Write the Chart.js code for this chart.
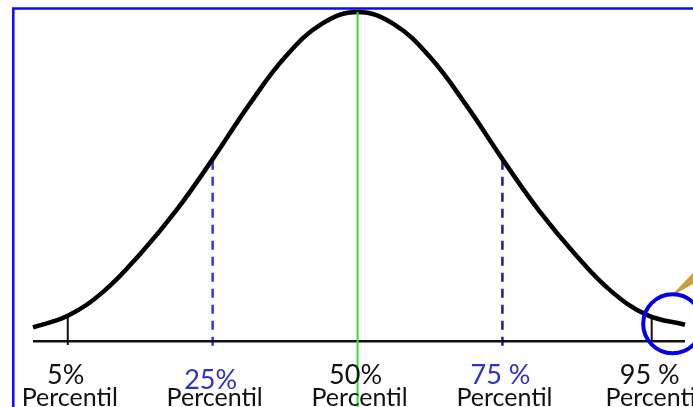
<!DOCTYPE html>
<html>
<head>
<meta charset="utf-8">
<script src="https://cdn.jsdelivr.net/npm/chart.js@4"></script>
<style>
  html, body { margin: 0; padding: 0; background: #fff; overflow: hidden; }
  #wrap { position: relative; width: 693px; height: 407px; }
</style>
</head>
<body>
<div id="wrap"><canvas id="bellChart" width="693" height="407"></canvas></div>
<script>
// Curve (x in marker steps, y relative to the peak)
var curveX = [-2.24, -2.0, -1.75, -1.5, -1.25, -1.0, -0.75, -0.5, -0.25, 0, 0.25, 0.5, 0.75, 1.0, 1.25, 1.5, 1.75, 2.0, 2.26];
var curveY = [0.042, 0.077, 0.152, 0.265, 0.398, 0.553, 0.717, 0.863, 0.963, 1.0, 0.963, 0.863, 0.717, 0.553, 0.398, 0.265, 0.152, 0.079, 0.05];

// Percentile markers
var markerX = [-2, -1, 0, 1, 2.03];
var markerTop = [0.077, 0.548, 1.0, 0.548, 0.073];
var markerBottom = [-0.012, -0.027, -0.2, -0.022, 0];
var pctLabels = ['5%', '25%', '50%', '75 %', '95 %'];
var subLabel = 'Percentil';

var markerColors = ['#111111', '#3535dd', '#33dd33', '#1c1c9c', '#111111'];
var markerDash = [[], [9, 7], [], [9, 7], []];
var markerWidth = [2, 2.5, 2, 2.5, 2];
var labelColors = ['#111111', '#2f2fcc', '#111111', '#2f2fcc', '#111111'];

var curvePts = curveX.map(function (x, i) { return { x: x, y: curveY[i] }; });

var datasets = [];
markerX.forEach(function (x, i) {
    datasets.push({
        data: [{ x: x, y: markerTop[i] }, { x: x, y: markerBottom[i] }],
        borderColor: markerColors[i],
        borderWidth: markerWidth[i],
        borderDash: markerDash[i],
        pointRadius: 0,
        tension: 0,
        order: i === 2 ? 0 : 3
    });
});
// axis line
datasets.push({
    data: [{ x: curveX[0], y: 0 }, { x: curveX[curveX.length - 1], y: 0 }],
    borderColor: '#111111',
    borderWidth: 2.5,
    pointRadius: 0,
    tension: 0,
    order: 2
});
// bell curve
datasets.push({
    data: curvePts,
    borderColor: '#000000',
    borderWidth: 4.5,
    pointRadius: 0,
    tension: 0.4,
    order: 1
});

var decorPlugin = {
    id: 'decor',
    beforeDraw: function (chart) {
        var ctx = chart.ctx;
        ctx.save();
        ctx.fillStyle = '#ffffff';
        ctx.fillRect(0, 0, chart.width, chart.height);
        // blue frame (left and top edges)
        ctx.strokeStyle = '#0a0aff';
        ctx.lineWidth = 2.5;
        ctx.beginPath();
        ctx.moveTo(13.3, chart.height);
        ctx.lineTo(13.3, 8.4);
        ctx.lineTo(chart.width, 8.4);
        ctx.stroke();
        ctx.restore();
    },
    afterDatasetsDraw: function (chart) {
        var ctx = chart.ctx;
        var xs = chart.scales.x, ys = chart.scales.y;
        ctx.save();
        ctx.textAlign = 'center';
        ctx.textBaseline = 'alphabetic';
        markerX.forEach(function (x, i) {
            var px = xs.getPixelForValue(x);
            ctx.fillStyle = labelColors[i];
            ctx.font = '27px Lato';
            ctx.fillText(pctLabels[i], px - 2, i === 1 ? 389 : 384);
            ctx.fillStyle = '#111111';
            ctx.font = '25px Lato';
            ctx.fillText(subLabel, px + 2, 406);
        });
        // pencil tip
        ctx.fillStyle = '#c9a040';
        ctx.beginPath();
        ctx.moveTo(670, 297);
        ctx.lineTo(693, 273);
        ctx.lineTo(693, 284);
        ctx.closePath();
        ctx.fill();
        // highlight circle on the 95% tail
        var cx = xs.getPixelForValue(2.175), cy = ys.getPixelForValue(0.053);
        ctx.strokeStyle = '#0000ee';
        ctx.lineWidth = 4;
        ctx.beginPath();
        ctx.arc(cx, cy, 29.5, 0, Math.PI * 2);
        ctx.stroke();
        ctx.restore();
    }
};

new Chart(document.getElementById('bellChart').getContext('2d'), {
    type: 'line',
    data: { datasets: datasets },
    options: {
        responsive: false,
        animation: false,
        layout: { padding: { left: 33, right: 8, top: 12, bottom: 0 } },
        scales: {
            x: { type: 'linear', display: false, min: -2.24, max: 2.26 },
            y: { display: false, min: -0.2, max: 1.0 }
        },
        elements: { line: { fill: false } },
        datasets: { line: { clip: false } },
        plugins: { legend: { display: false }, tooltip: { enabled: false } }
    },
    plugins: [decorPlugin]
});
</script>
</body>
</html>
